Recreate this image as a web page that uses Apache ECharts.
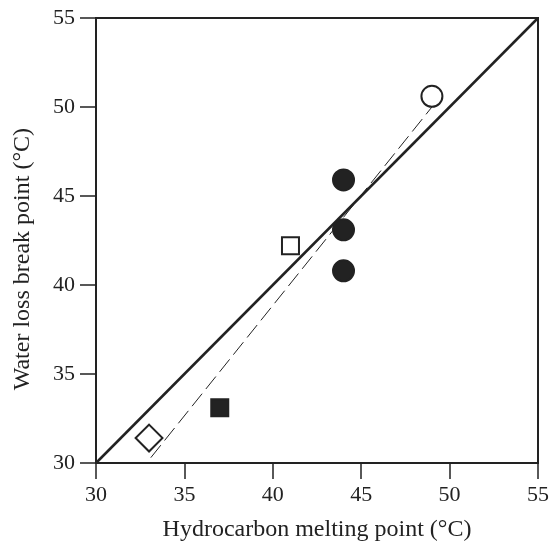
<!DOCTYPE html>
<html><head><meta charset="utf-8">
<script src="https://cdn.jsdelivr.net/npm/echarts@6/dist/echarts.min.js"></script>
<style>html,body{margin:0;padding:0;background:#fff}#c{width:552px;height:547px}</style>
</head><body><div id="c"></div>
<script>
var xTicks = [30, 35, 40, 45, 50, 55];
var yTicks = [30, 35, 40, 45, 50, 55];
var xTitle = 'Hydrocarbon melting point (°C)';
var yTitle = 'Water loss break point (°C)';
var openCircle = [[49, 50.6]];
var filledCircles = [[44, 45.9], [44, 43.1], [44, 40.8]];
var openSquare = [[41, 42.2]];
var filledSquare = [[37, 33.1]];
var openDiamond = [[33, 31.4]];
var identityLine = [[30, 30], [55, 55]];
var fitLine = [[33.1, 30.3], [49, 50.0]];

var ink = '#222';
var font = 'Liberation Serif';
var chart = echarts.init(document.getElementById('c'));
function sc(data, symbol, size, fill, rot) {
  return {type: 'scatter', data: data, symbol: symbol, symbolSize: size, symbolRotate: rot || 0,
    itemStyle: {color: fill, borderColor: ink, borderWidth: 2, opacity: 1}, z: 5};
}
chart.setOption({
  animation: false,
  grid: {left: 96, right: 11, top: 18, bottom: 84, show: true, borderColor: ink, borderWidth: 2},
  graphic: [{type: 'text', left: 11, top: 128, rotation: Math.PI / 2, originX: 0, originY: 0,
    style: {text: yTitle, fontFamily: font, fontSize: 24, fill: ink}}],
  xAxis: {type: 'value', min: xTicks[0], max: xTicks[xTicks.length-1], interval: 5,
    name: xTitle, nameLocation: 'middle', nameGap: 55,
    nameTextStyle: {fontFamily: font, fontSize: 24, color: ink},
    axisLine: {show: true, onZero: false, lineStyle: {color: ink, width: 2}},
    axisTick: {show: true, inside: false, length: 16, lineStyle: {color: ink, width: 1.5}},
    axisLabel: {fontFamily: font, fontSize: 22, color: ink, margin: 21},
    splitLine: {show: false}},
  yAxis: {type: 'value', min: yTicks[0], max: yTicks[yTicks.length-1], interval: 5,
    axisLine: {show: true, onZero: false, lineStyle: {color: ink, width: 2}},
    axisTick: {show: true, inside: false, length: 16, lineStyle: {color: ink, width: 1.5}},
    axisLabel: {fontFamily: font, fontSize: 22, color: ink, margin: 21},
    splitLine: {show: false}},
  series: [
    {type: 'line', data: identityLine, symbol: 'none', lineStyle: {color: ink, width: 2.5}, z: 3},
    {type: 'line', data: fitLine, symbol: 'none', lineStyle: {color: ink, width: 1, type: [16, 6]}, z: 3},
    sc(openCircle, 'circle', 21, '#fff'),
    sc(filledCircles, 'circle', 21, ink),
    sc(openSquare, 'rect', 17, '#fff'),
    sc(filledSquare, 'rect', 17, ink),
    sc(openDiamond, 'rect', 19, '#fff', 45)
  ]
});
</script></body></html>
